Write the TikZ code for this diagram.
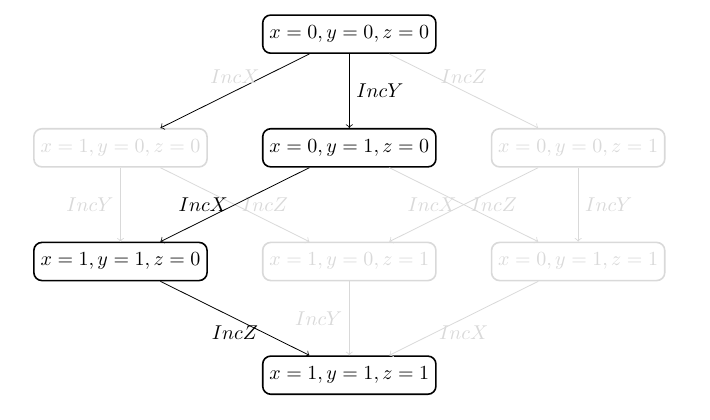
\documentclass[tikz,border=0pt]{standalone}
\usetikzlibrary{positioning}

\begin{document}
\begin{tikzpicture}[node distance=1.30cm and 0.95cm,
  box/.style={draw, thick, rounded corners=4pt, minimum height=0.67cm},
  faded/.style={black!15}]

\useasboundingbox (-6.14,0.6) rectangle (6.34,-6.78);

\node[box] (000) {$x=0, y=0, z=0$};
\node[box, below=of 000] (010) {$x=0, y=1, z=0$};
\node[box, faded, left=of 010] (100) {$x=1, y=0, z=0$};
\node[box, faded, right=of 010] (001) {$x=0, y=0, z=1$};
\node[box, faded, below=of 010] (101) {$x=1, y=0, z=1$};
\node[box, left=of 101] (110) {$x=1, y=1, z=0$};
\node[box, faded, right=of 101] (011) {$x=0, y=1, z=1$};
\node[box, below=of 101] (111) {$x=1, y=1, z=1$};

\draw[->]
(000) edge node[above, faded] {$IncX$} (100)
(000) edge node[right] {$IncY$} (010)
(000) edge[faded] node[above] {$IncZ$} (001)
(100) edge[faded] node[left] {$IncY$} (110)
(100) edge[faded] node[right] {$IncZ$} (101)
(010) edge node[left] {$IncX$} (110)
(010) edge[faded] node[right] {$IncZ$} (011)
(001) edge[faded] node[left] {$IncX$} (101)
(001) edge[faded] node[right] {$IncY$} (011)
(110) edge node[below] {$IncZ$} (111)
(101) edge[faded] node[left] {$IncY$} (111)
(011) edge[faded] node[below] {$IncX$} (111);

\end{tikzpicture}
\end{document}
